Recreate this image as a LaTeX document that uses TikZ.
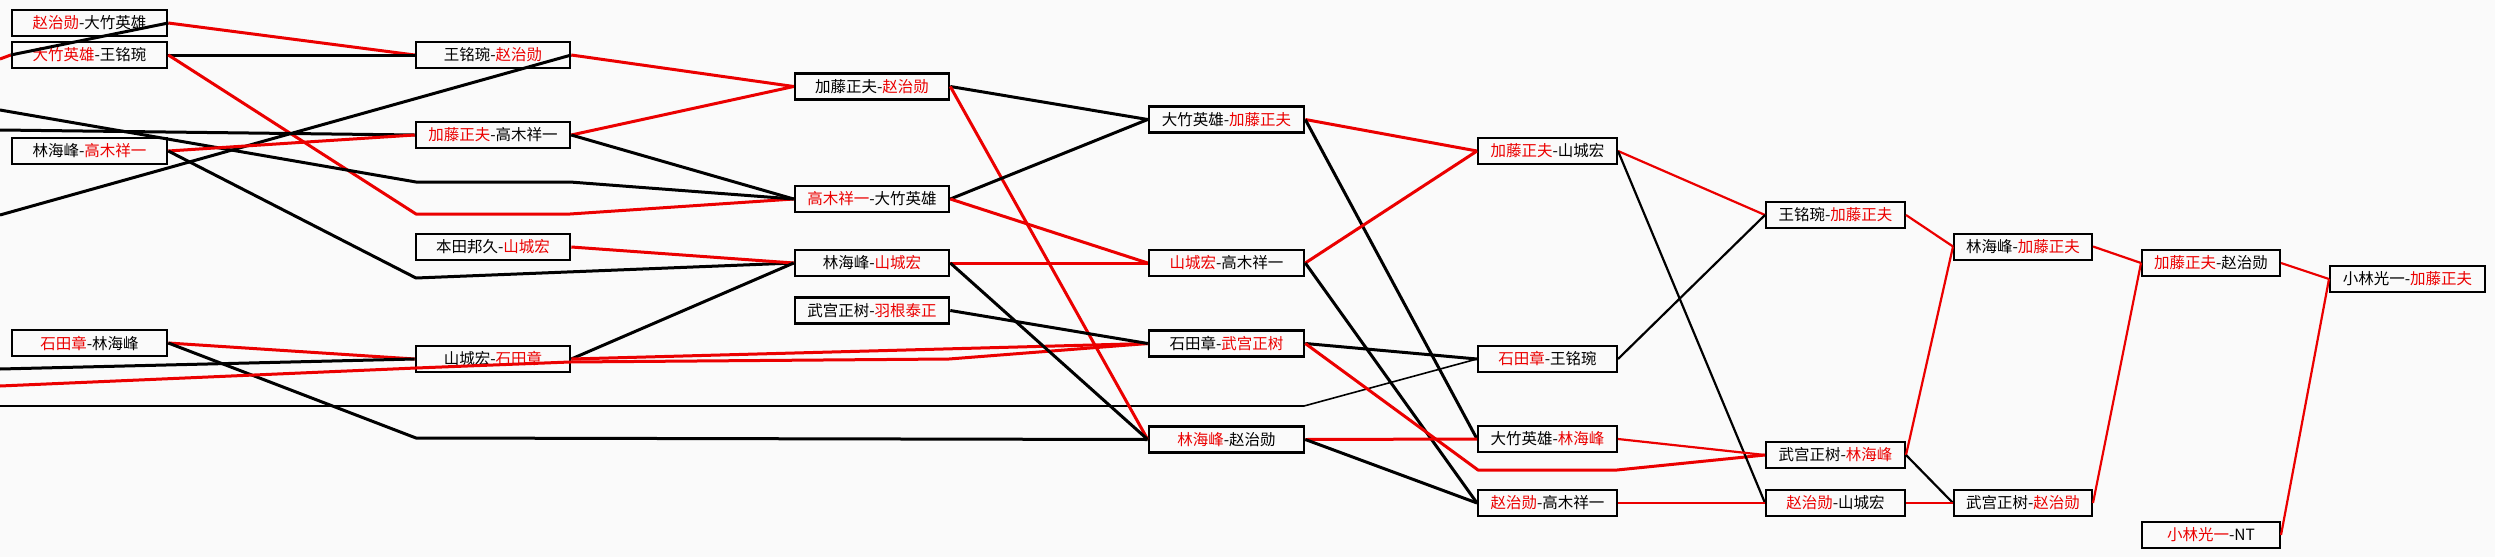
\documentclass[tikz,border=0pt]{standalone}
\usepackage{fontspec}
\setmainfont{Noto Sans CJK SC}
\definecolor{wred}{RGB}{235,0,0}
\definecolor{bgc}{RGB}{250,250,250}
\newcommand{\wn}[1]{\textcolor{wred}{#1}}
\tikzset{
  gbox/.style={draw=black, line width=2.6pt, minimum width=155pt, minimum height=26pt, inner sep=0pt, font=\fontsize{15.5}{16}\selectfont},
  sbox/.style={gbox, line width=2pt, minimum width=139pt},
  bk/.style={line width=3pt, black, line join=round},
  rd/.style={line width=3pt, wred, line join=round},
  bks/.style={line width=2.2pt, black, line join=round},
  rds/.style={line width=2.2pt, wred, line join=round},
  thinbk/.style={line width=1.6pt, black, line join=round},
  thinrd/.style={line width=1.6pt, wred, line join=round}
}
\begin{document}
\begin{tikzpicture}[x=1pt,y=-1pt]
\fill[bgc] (0,0) rectangle (2495,557);
\useasboundingbox (0,0) rectangle (2495,557);
% column A
\node[gbox] (A1) at (89.5,23) {\wn{赵治勋}-大竹英雄};
\node[gbox] (A2) at (89.5,55) {\wn{大竹英雄}-王铭琬};
\node[gbox] (A3) at (89.5,151) {林海峰-\wn{高木祥一}};
\node[gbox] (A4) at (89.5,343) {\wn{石田章}-林海峰};
% column B
\node[gbox, minimum width=154pt] (B1) at (493,55) {王铭琬-\wn{赵治勋}};
\node[gbox, minimum width=154pt] (B2) at (493,135) {\wn{加藤正夫}-高木祥一};
\node[gbox, minimum width=154pt] (B3) at (493,247) {本田邦久-\wn{山城宏}};
\node[gbox, minimum width=154pt] (B4) at (493,359) {山城宏-\wn{石田章}};
% column C
\node[gbox, minimum width=154pt] (C1) at (872,86.5) {加藤正夫-\wn{赵治勋}};
\node[gbox, minimum width=154pt] (C2) at (872,199) {\wn{高木祥一}-大竹英雄};
\node[gbox, minimum width=154pt] (C3) at (872,263) {林海峰-\wn{山城宏}};
\node[gbox, minimum width=154pt] (C4) at (872,310.5) {武宫正树-\wn{羽根泰正}};
% column D
\node[gbox] (D1) at (1226.5,119.5) {大竹英雄-\wn{加藤正夫}};
\node[gbox] (D2) at (1226.5,263) {\wn{山城宏}-高木祥一};
\node[gbox] (D3) at (1226.5,343.5) {石田章-\wn{武宫正树}};
\node[gbox] (D4) at (1226.5,439.5) {\wn{林海峰}-赵治勋};
% column E
\node[sbox] (E1) at (1547.5,151) {\wn{加藤正夫}-山城宏};
\node[sbox] (E2) at (1547.5,359) {\wn{石田章}-王铭琬};
\node[sbox] (E3) at (1547.5,439) {大竹英雄-\wn{林海峰}};
\node[sbox] (E4) at (1547.5,503) {\wn{赵治勋}-高木祥一};
% column F
\node[sbox] (F1) at (1835.5,215) {王铭琬-\wn{加藤正夫}};
\node[sbox] (F2) at (1835.5,455) {武宫正树-\wn{林海峰}};
\node[sbox] (F3) at (1835.5,503) {\wn{赵治勋}-山城宏};
% column G
\node[sbox, minimum width=138pt] (G1) at (2023,246.5) {林海峰-\wn{加藤正夫}};
\node[sbox, minimum width=138pt] (G2) at (2023,503) {武宫正树-\wn{赵治勋}};
% column H
\node[sbox, minimum width=138pt] (H1) at (2211,263) {\wn{加藤正夫}-赵治勋};
\node[sbox, minimum width=138pt] (H2) at (2211,535) {\wn{小林光一}-NT};
% column I
\node[sbox, minimum width=155pt] (I1) at (2407.5,279) {小林光一-\wn{加藤正夫}};

% free ends at the left edge and bend points
\coordinate (L1) at (0,59);
\coordinate (L2) at (0,110);
\coordinate (L3) at (0,130);
\coordinate (L4) at (0,215);
\coordinate (L5) at (0,369);
\coordinate (L6) at (0,386);
\coordinate (L7) at (0,406);
\coordinate (p1) at (416,214);
\coordinate (p2) at (570,214);
\coordinate (p3) at (416,182);
\coordinate (p4) at (570,182);
\coordinate (p5) at (416,278);
\coordinate (p6) at (416,438);
\coordinate (p7) at (416,368);
\coordinate (p8) at (570,362);
\coordinate (p9) at (949,359);
\coordinate (p10) at (1304,406);
\coordinate (p11) at (1478,470);
\coordinate (p12) at (1617,470);

% round 1 -> 2
\draw[rd] (A1.east) -- (B1.west);
\draw[bk] (A2.east) -- (B1.west);
\draw[rd] (A2.east) -- (p1) -- (p2) -- (C2.west);
\draw[rd] (L1) -- (A2.west);
\draw[bk] (A2.west) -- (A1.east);
\draw[bk] (L2) -- (p3) -- (p4) -- (C2.west);
\draw[bk] (L3) -- (B2.west);
\draw[bk] (L4) -- (B1.east);
\draw[rd] (A3.east) -- (B2.west);
\draw[bk] (A3.east) -- (p5) -- (C3.west);
\draw[rd] (A4.east) -- (B4.west);
\draw[bk] (A4.east) -- (p6) -- (D4.west);
\draw[bk] (L5) -- (B4.west);
\draw[rd] (L6) -- (p7) -- (p8) -- (p9) -- (D3.west);
\draw[thinbk] (L7) -- (p10) -- (E2.west);
% B -> C
\draw[rd] (B1.east) -- (C1.west);
\draw[rd] (B2.east) -- (C1.west);
\draw[bk] (B2.east) -- (C2.west);
\draw[rd] (B3.east) -- (C3.west);
\draw[bk] (B4.east) -- (C3.west);
\draw[rd] (B4.east) -- (D3.west);
% C -> D
\draw[bk] (C1.east) -- (D1.west);
\draw[rd] (C1.east) -- (D4.west);
\draw[bk] (C2.east) -- (D1.west);
\draw[rd] (C2.east) -- (D2.west);
\draw[rd] (C3.east) -- (D2.west);
\draw[bk] (C3.east) -- (D4.west);
\draw[bk] (C4.east) -- (D3.west);
% D -> E
\draw[rd] (D1.east) -- (E1.west);
\draw[bk] (D1.east) -- (E3.west);
\draw[rd] (D2.east) -- (E1.west);
\draw[bk] (D2.east) -- (E4.west);
\draw[bk] (D3.east) -- (E2.west);
\draw[rd] (D3.east) -- (p11) -- (p12) -- (F2.west);
\draw[rd] (D4.east) -- (E3.west);
\draw[bk] (D4.east) -- (E4.west);
% E -> F
\draw[rds] (E1.east) -- (F1.west);
\draw[bks] (E1.east) -- (F3.west);
\draw[bks] (E2.east) -- (F1.west);
\draw[rds] (E3.east) -- (F2.west);
\draw[thinrd] (E4.east) -- (F3.west);
% F -> G
\draw[rds] (F1.east) -- (G1.west);
\draw[rds] (F2.east) -- (G1.west);
\draw[bks] (F2.east) -- (G2.west);
\draw[rds] (F3.east) -- (G2.west);
% G -> H -> I
\draw[rds] (G1.east) -- (H1.west);
\draw[rds] (G2.east) -- (H1.west);
\draw[rds] (H1.east) -- (I1.west);
\draw[rds] (H2.east) -- (I1.west);
\end{tikzpicture}
\end{document}
